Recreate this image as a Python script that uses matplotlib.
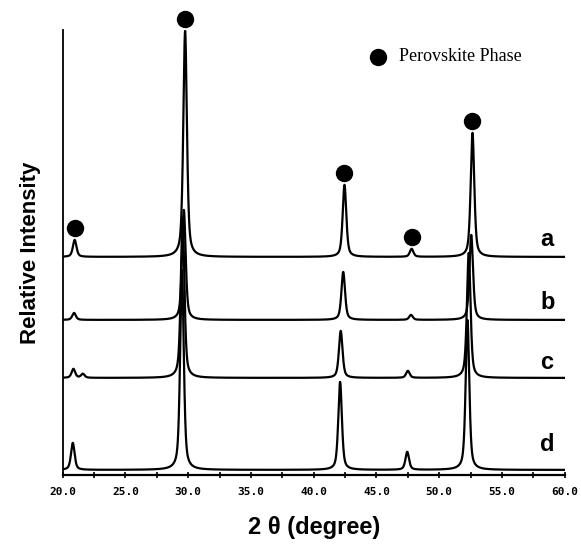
import numpy as np
import matplotlib.pyplot as plt
from matplotlib.ticker import MultipleLocator, FormatStrFormatter

# peak positions (2-theta, deg) and heights for each pattern
samples = ['a', 'b', 'c', 'd']
pos_a = [20.95, 29.75, 42.45, 47.8, 52.65]
hgt_a = [17, 226, 72, 8, 124]
pos_b = [20.9, 29.65, 42.35, 47.75, 52.55]
hgt_b = [7, 110, 48, 5, 85]
pos_c = [20.85, 21.6, 29.55, 42.15, 47.5, 52.35]
hgt_c = [9, 4, 160, 47, 7, 125]
pos_d = [20.8, 29.5, 42.1, 47.45, 52.25]
hgt_d = [27, 200, 88, 18, 150]
offsets = [218, 155, 97, 5]
label_y = [235, 172, 112, 30]

fwhm = 0.34
eta = 0.55


def profile(x, pos, hgt):
    y = np.zeros_like(x)
    for p, h in zip(pos, hgt):
        g = np.exp(-4 * np.log(2) * ((x - p) / fwhm) ** 2)
        l = 1 / (1 + 4 * ((x - p) / fwhm) ** 2)
        y += h * (eta * l + (1 - eta) * g)
    return y


x = np.arange(20.0, 60.0, 0.005)

fig = plt.figure(figsize=(5.81, 5.44), dpi=100)
ax = fig.add_axes([0.108, 0.127, 0.864, 0.818])

all_pos = [pos_a, pos_b, pos_c, pos_d]
all_hgt = [hgt_a, hgt_b, hgt_c, hgt_d]
for name, p, h, off, ly in zip(samples, all_pos, all_hgt, offsets, label_y):
    ax.plot(x, off + profile(x, p, h), color='black', lw=1.6)
    ax.text(58.6, ly, name, fontsize=17, fontweight='bold',
            family='Liberation Sans', ha='center', va='center')

# perovskite markers above the peaks of pattern a
ax.plot(pos_a, np.array(hgt_a) + offsets[0] + 12, 'o',
        color='black', ms=11.5, clip_on=False)

ax.plot([45.1], [418], 'o', color='black', ms=11.5, clip_on=False)
ax.text(46.8, 418, 'Perovskite Phase', fontsize=13,
        family='Liberation Serif', va='center', ha='left')

ax.set_xlim(20, 60)
ax.set_ylim(0, 445)
ax.spines['top'].set_visible(False)
ax.spines['right'].set_visible(False)
ax.spines['left'].set_linewidth(1.3)
ax.spines['bottom'].set_linewidth(1.6)
ax.set_yticks([])
ax.xaxis.set_major_locator(MultipleLocator(5))
ax.xaxis.set_minor_locator(MultipleLocator(2.5))
ax.xaxis.set_major_formatter(FormatStrFormatter('%.1f'))
ax.tick_params(axis='x', which='both', direction='inout', length=5,
               width=1.2, pad=6)
for t in ax.get_xticklabels():
    t.set_family('DejaVu Sans Mono')
    t.set_fontweight('bold')
    t.set_fontsize(8)

ax.set_xlabel('2 θ (degree)', fontsize=17, fontweight='bold',
              family='Liberation Sans', labelpad=14)
ax.set_ylabel('Relative Intensity', fontsize=16, fontweight='bold',
              family='Liberation Sans', labelpad=16)

fig.savefig('out.png', dpi=100)
